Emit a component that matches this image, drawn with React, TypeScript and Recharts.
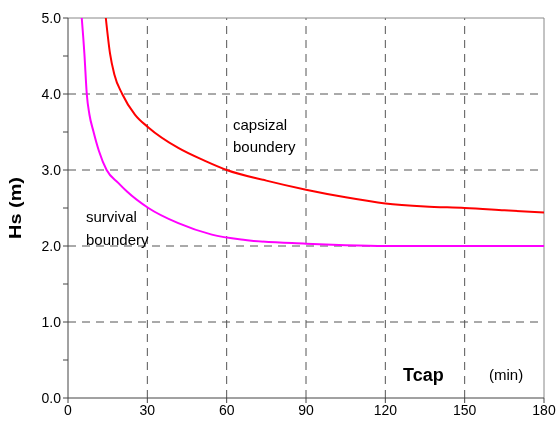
import React from 'react';
import { LineChart, Line, XAxis, YAxis, ReferenceLine } from 'recharts';

// capsizal boundary (red)
const capsizalT = [14.3, 15.9, 17.5, 20.5, 25.3, 30.4, 41.7, 51.8, 60, 75, 90, 105, 120, 135, 150, 165, 180];
const capsizalHs = [5.0, 4.53, 4.26, 4.0, 3.73, 3.56, 3.29, 3.12, 3.0, 2.86, 2.74, 2.64, 2.56, 2.52, 2.5, 2.47, 2.44];

// survival boundary (magenta)
const survivalT = [5.2, 6.2, 7.1, 8.1, 9.6, 11.7, 14.6, 19.0, 22.2, 30.4, 41.7, 54.4, 67, 90, 105, 120, 150, 180];
const survivalHs = [5.0, 4.53, 4.0, 3.73, 3.51, 3.25, 3.0, 2.83, 2.72, 2.5, 2.3, 2.15, 2.08, 2.03, 2.01, 2.0, 2.0, 2.0];

const xTicks = [0, 30, 60, 90, 120, 150, 180];
const yTicks = [0, 0.5, 1, 1.5, 2, 2.5, 3, 3.5, 4, 4.5, 5];
const xGrid = [30, 60, 90, 120, 150];
const yGrid = [1, 2, 3, 4];

const capsizal = capsizalT.map((t, i) => ({ t, hs: capsizalHs[i] }));
const survival = survivalT.map((t, i) => ({ t, hs: survivalHs[i] }));

const FONT = '"Liberation Sans", Arial, sans-serif';
const W = 552;
const H = 412;

const YTick = (props: any) => {
  const { x, y, payload } = props;
  if (payload.value % 1 !== 0) return <g />;
  return (
    <text x={x} y={y} dy={5} textAnchor="end" fontSize={14} fontFamily={FONT} fill="#000">
      {payload.value.toFixed(1)}
    </text>
  );
};

export default function App() {
  return (
    <div style={{ position: 'fixed', left: 8, top: 8, width: W, height: H, overflow: 'hidden' }}>
      <LineChart width={W} height={H} margin={{ top: 10, right: 16, bottom: 0, left: 0 }}>
        <XAxis
          type="number"
          dataKey="t"
          domain={[0, 180]}
          ticks={xTicks}
          interval={0}
          height={22}
          stroke="#444"
          tickSize={5}
          tickLine={{ stroke: '#444' }}
          tick={{ fontSize: 14, fontFamily: FONT, fill: '#000' }}
          allowDuplicatedCategory={false}
        />
        <YAxis
          type="number"
          domain={[0, 5]}
          ticks={yTicks}
          interval={0}
          width={60}
          stroke="#444"
          tickSize={5}
          tickLine={{ stroke: '#444' }}
          tick={<YTick />}
        />
        {xGrid.map((v) => (
          <ReferenceLine key={'x' + v} x={v} stroke="#555" strokeDasharray="8 6" />
        ))}
        {yGrid.map((v) => (
          <ReferenceLine key={'y' + v} y={v} stroke="#555" strokeDasharray="8 6" />
        ))}
        <ReferenceLine x={180} stroke="#888" />
        <ReferenceLine y={5} stroke="#888" />
        <Line
          data={capsizal}
          dataKey="hs"
          type="monotone"
          stroke="#ff0000"
          strokeWidth={2}
          dot={false}
          isAnimationActive={false}
        />
        <Line
          data={survival}
          dataKey="hs"
          type="monotone"
          stroke="#ff00ff"
          strokeWidth={2}
          dot={false}
          isAnimationActive={false}
        />
      </LineChart>
      <svg
        width={W}
        height={H}
        style={{ position: 'absolute', left: 0, top: 0, pointerEvents: 'none' }}
        fontFamily={FONT}
      >
        <text x={225} y={122} fontSize={15} fill="#000">capsizal</text>
        <text x={225} y={144} fontSize={15} fill="#000">boundery</text>
        <text x={78} y={214} fontSize={15} fill="#000">survival</text>
        <text x={78} y={237} fontSize={15} fill="#000">boundery</text>
        <text x={395} y={373} fontSize={18} fontWeight="bold" fill="#000">Tcap</text>
        <text x={481} y={372} fontSize={15} fill="#000">(min)</text>
        <text
          x={13}
          y={200}
          fontSize={16}
          fontWeight="bold"
          fill="#000"
          textAnchor="middle"
          textLength={62}
          lengthAdjust="spacingAndGlyphs"
          transform="rotate(-90 13 200)"
        >
          Hs (m)
        </text>
      </svg>
    </div>
  );
}
